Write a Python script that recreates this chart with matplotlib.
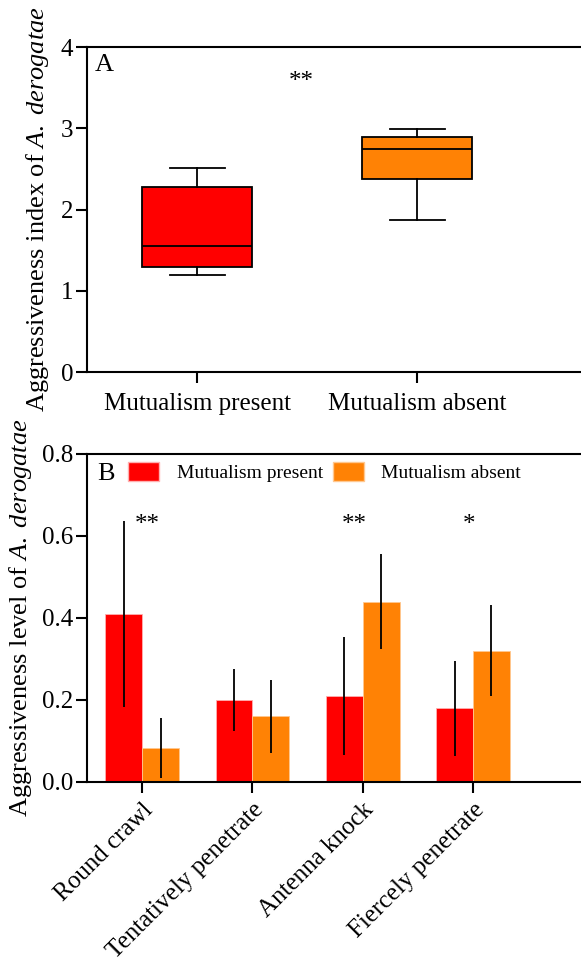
import numpy as np
import matplotlib
matplotlib.use("Agg")
import matplotlib.pyplot as plt
from matplotlib.patches import Patch

plt.rcParams['font.family'] = ['Liberation Serif', 'DejaVu Serif']
plt.rcParams['mathtext.fontset'] = 'custom'
plt.rcParams['mathtext.rm'] = 'Liberation Serif'
plt.rcParams['mathtext.it'] = 'Liberation Serif:italic'

RED = '#FF0000'
ORANGE = '#FF8205'

# --- panel A: aggressiveness index (box plot summary) ---
groups = ['Mutualism present', 'Mutualism absent']
whisker_low = [1.19, 1.87]
q1 = [1.29, 2.38]
median = [1.55, 2.75]
q3 = [2.28, 2.89]
whisker_high = [2.51, 2.99]

# --- panel B: behaviour levels (mean +/- error) ---
behaviours = ['Round crawl', 'Tentatively penetrate', 'Antenna knock', 'Fiercely penetrate']
present_mean = [0.41, 0.20, 0.21, 0.18]
present_err = [0.227, 0.075, 0.143, 0.116]
absent_mean = [0.082, 0.16, 0.44, 0.32]
absent_err = [0.073, 0.09, 0.116, 0.111]
sig_marks = ['**', '', '**', '*']
sig_x = [0.045, 1.0, 1.92, 2.96]

fig = plt.figure(figsize=(5.81, 9.67), dpi=100)
FS = 18      # tick labels
LFS = 19     # axis labels

# panel A
axA = fig.add_axes([87/581, 1 - 372/967, (620 - 87)/581, (372 - 47)/967])
stats = []
for i in range(2):
    stats.append({'whislo': whisker_low[i], 'q1': q1[i], 'med': median[i],
                  'q3': q3[i], 'whishi': whisker_high[i], 'fliers': []})
bp = axA.bxp(stats, positions=[1, 2], widths=0.5, patch_artist=True,
             showfliers=False,
             boxprops=dict(linewidth=1.3, edgecolor='black'),
             medianprops=dict(color='black', linewidth=1.3),
             whiskerprops=dict(color='black', linewidth=1.3),
             capprops=dict(color='black', linewidth=1.3), capwidths=0.25)
for patch, c in zip(bp['boxes'], [RED, ORANGE]):
    patch.set_facecolor(c)
axA.set_xlim(0.5, 0.5 + 533/220)
axA.set_ylim(0, 4)
axA.set_yticks([0, 1, 2, 3, 4])
axA.set_xticks([1, 2])
axA.set_xticklabels(groups)
axA.set_ylabel(r'Aggressiveness index of $\mathit{A.\ derogatae}$', fontsize=LFS)
axA.yaxis.set_label_coords(-0.0675, 0.5)
axA.text(0.015, 0.945, 'A', transform=axA.transAxes, fontsize=LFS, va='center', ha='left')
axA.text(1.473, 3.57, '**', fontsize=FS, ha='center', va='center')

# panel B
axB = fig.add_axes([87/581, 1 - 782/967, (620 - 87)/581, (782 - 454)/967])
x = np.arange(len(behaviours))
w = 1/3
axB.bar(x - w/2, present_mean, w, color=RED, edgecolor='#FFB0B0', linewidth=0.6,
        label='Mutualism present')
axB.bar(x + w/2, absent_mean, w, color=ORANGE, edgecolor='#FFC890', linewidth=0.6,
        label='Mutualism absent')
axB.errorbar(x - w/2, present_mean, yerr=present_err, fmt='none', ecolor='black',
             elinewidth=1.3, capsize=0)
axB.errorbar(x + w/2, absent_mean, yerr=absent_err, fmt='none', ecolor='black',
             elinewidth=1.3, capsize=0)
for sx, s in zip(sig_x, sig_marks):
    if s:
        axB.text(sx, 0.627, s, fontsize=FS, ha='center', va='center')
axB.set_xlim(-0.5, -0.5 + 533/110.3)
axB.set_ylim(0, 0.8)
axB.set_yticks([0.0, 0.2, 0.4, 0.6, 0.8])
axB.set_yticklabels(['0.0', '0.2', '0.4', '0.6', '0.8'])
axB.set_xticks(x)
axB.set_xticklabels(behaviours, rotation=45, ha='right', rotation_mode='anchor')
axB.set_ylabel(r'Aggressiveness level of $\mathit{A.\ derogatae}$', fontsize=LFS)
axB.yaxis.set_label_coords(-0.0994, 0.5)
axB.text(0.019, 0.939, 'B', transform=axB.transAxes, fontsize=LFS, va='center', ha='left')
handles = [Patch(facecolor=RED, edgecolor='#FFB0B0'), Patch(facecolor=ORANGE, edgecolor='#FFC890')]
axB.legend(handles, ['Mutualism present', 'Mutualism absent'], ncol=2, frameon=False,
           fontsize=14, handlelength=1.6, handleheight=1.1, handletextpad=0.9,
           columnspacing=0.5, loc='center left',
           bbox_to_anchor=(0.077, 0.945), borderaxespad=0, borderpad=0)

for ax in (axA, axB):
    for sp in ax.spines.values():
        sp.set_linewidth(1.5)
    ax.tick_params(axis='both', labelsize=FS, width=1.5, length=8, direction='out')
    ax.tick_params(axis='y', pad=2)
axA.tick_params(axis='x', pad=7)
axB.tick_params(axis='x', pad=4)

fig.savefig('out.png', dpi=100)
